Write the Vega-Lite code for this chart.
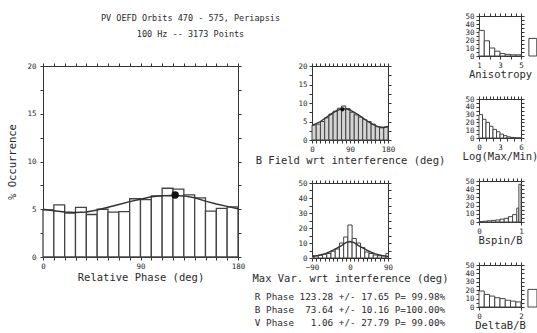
{
  "$schema": "https://vega.github.io/schema/vega-lite/v6.json",
  "background": "white",
  "padding": {"left": 7, "top": 11, "right": 0, "bottom": 0},
  "datasets": {
    "main": [
      {"lo":0,"hi":10,"v":4.93},{"lo":10,"hi":20,"v":5.45},{"lo":20,"hi":30,"v":4.6},{"lo":30,"hi":40,"v":5.2},
      {"lo":40,"hi":50,"v":4.45},{"lo":50,"hi":60,"v":5.0},{"lo":60,"hi":70,"v":4.7},{"lo":70,"hi":80,"v":4.75},
      {"lo":80,"hi":90,"v":6.1},{"lo":90,"hi":100,"v":6.0},{"lo":100,"hi":110,"v":6.4},{"lo":110,"hi":120,"v":7.2},
      {"lo":120,"hi":130,"v":7.1},{"lo":130,"hi":140,"v":6.5},{"lo":140,"hi":150,"v":6.2},{"lo":150,"hi":160,"v":4.8},
      {"lo":160,"hi":170,"v":5.1},{"lo":170,"hi":180,"v":5.25}
    ],
    "mainfit": [
      {"x":0,"y":5.0},{"x":10,"y":4.85},{"x":20,"y":4.72},{"x":30,"y":4.65},{"x":40,"y":4.72},{"x":50,"y":4.92},
      {"x":60,"y":5.2},{"x":70,"y":5.5},{"x":80,"y":5.8},{"x":90,"y":6.05},{"x":100,"y":6.3},{"x":110,"y":6.42},
      {"x":120,"y":6.45},{"x":130,"y":6.4},{"x":140,"y":6.2},{"x":150,"y":5.85},{"x":160,"y":5.55},{"x":170,"y":5.3},{"x":180,"y":5.05}
    ],
    "maindot": [{"x":122,"y":6.5}],
    "bf": [
      {"lo":0,"hi":10,"v":4.0},{"lo":10,"hi":20,"v":4.3},{"lo":20,"hi":30,"v":5.0},{"lo":30,"hi":40,"v":6.0},
      {"lo":40,"hi":50,"v":7.0},{"lo":50,"hi":60,"v":7.8},{"lo":60,"hi":70,"v":8.6},{"lo":70,"hi":80,"v":9.2},
      {"lo":80,"hi":90,"v":8.5},{"lo":90,"hi":100,"v":7.5},{"lo":100,"hi":110,"v":6.8},{"lo":110,"hi":120,"v":6.2},
      {"lo":120,"hi":130,"v":5.5},{"lo":130,"hi":140,"v":5.0},{"lo":140,"hi":150,"v":4.3},{"lo":150,"hi":160,"v":3.6},
      {"lo":160,"hi":170,"v":3.3},{"lo":170,"hi":180,"v":3.5}
    ],
    "bffit": [
      {"x":0,"y":4.0},{"x":10,"y":4.4},{"x":20,"y":5.0},{"x":30,"y":5.8},{"x":40,"y":6.6},{"x":50,"y":7.4},
      {"x":60,"y":8.0},{"x":70,"y":8.4},{"x":80,"y":8.4},{"x":90,"y":8.1},{"x":100,"y":7.5},{"x":110,"y":6.8},
      {"x":120,"y":6.0},{"x":130,"y":5.2},{"x":140,"y":4.5},{"x":150,"y":3.9},{"x":160,"y":3.5},{"x":170,"y":3.4},{"x":180,"y":3.7}
    ],
    "bfdot": [{"x":72,"y":8.3}],
    "mv": [
      {"lo":-95,"hi":-85,"v":1.5},{"lo":-85,"hi":-75,"v":1.5},{"lo":-75,"hi":-65,"v":2},{"lo":-65,"hi":-55,"v":2.5},
      {"lo":-55,"hi":-45,"v":3},{"lo":-45,"hi":-35,"v":4.5},{"lo":-35,"hi":-25,"v":6},{"lo":-25,"hi":-15,"v":10},
      {"lo":-15,"hi":-5,"v":14},{"lo":-5,"hi":5,"v":22},{"lo":5,"hi":15,"v":13},{"lo":15,"hi":25,"v":10},
      {"lo":25,"hi":35,"v":7},{"lo":35,"hi":45,"v":4},{"lo":45,"hi":55,"v":3},{"lo":55,"hi":65,"v":2},
      {"lo":65,"hi":75,"v":1.5},{"lo":75,"hi":85,"v":1.5},{"lo":85,"hi":95,"v":3}
    ],
    "mvfit": [
      {"x":-90,"y":1.0},{"x":-80,"y":1.4},{"x":-70,"y":2.0},{"x":-60,"y":2.8},{"x":-50,"y":3.9},{"x":-40,"y":5.2},
      {"x":-30,"y":6.7},{"x":-20,"y":8.3},{"x":-10,"y":10.2},{"x":0,"y":11},{"x":10,"y":10.2},{"x":20,"y":8.3},
      {"x":30,"y":6.7},{"x":40,"y":5.2},{"x":50,"y":3.9},{"x":60,"y":2.8},{"x":70,"y":2.0},{"x":80,"y":1.4},{"x":90,"y":1.0}
    ],
    "an": [
      {"lo":1,"hi":1.5,"v":32},{"lo":1.5,"hi":2,"v":19},{"lo":2,"hi":2.5,"v":10},{"lo":2.5,"hi":3,"v":6},
      {"lo":3,"hi":3.5,"v":3},{"lo":3.5,"hi":4,"v":2},{"lo":4,"hi":4.5,"v":1.5},{"lo":4.5,"hi":5,"v":1.5},
      {"lo":5.75,"hi":6.5,"v":22}
    ],
    "lg": [
      {"lo":0,"hi":0.5,"v":30},{"lo":0.5,"hi":1,"v":24},{"lo":1,"hi":1.5,"v":20},{"lo":1.5,"hi":2,"v":15},
      {"lo":2,"hi":2.5,"v":11},{"lo":2.5,"hi":3,"v":8},{"lo":3,"hi":3.5,"v":5},{"lo":3.5,"hi":4,"v":3},
      {"lo":4,"hi":4.5,"v":1.5},{"lo":4.5,"hi":5,"v":0.8},{"lo":5,"hi":5.5,"v":0.4},{"lo":5.5,"hi":6,"v":0.2}
    ],
    "bs": [
      {"lo":0,"hi":0.1,"v":0.5},{"lo":0.1,"hi":0.2,"v":1},{"lo":0.2,"hi":0.3,"v":1.5},{"lo":0.3,"hi":0.4,"v":2},
      {"lo":0.4,"hi":0.5,"v":2.5},{"lo":0.5,"hi":0.6,"v":3.5},{"lo":0.6,"hi":0.7,"v":4.5},{"lo":0.7,"hi":0.8,"v":6.5},
      {"lo":0.8,"hi":0.9,"v":9},{"lo":0.9,"hi":0.95,"v":17},{"lo":0.95,"hi":1.0,"v":46}
    ],
    "db": [
      {"lo":0,"hi":0.25,"v":19},{"lo":0.25,"hi":0.5,"v":15},{"lo":0.5,"hi":0.75,"v":13},{"lo":0.75,"hi":1,"v":11},
      {"lo":1,"hi":1.25,"v":10},{"lo":1.25,"hi":1.5,"v":8},{"lo":1.5,"hi":1.75,"v":7},{"lo":1.75,"hi":2,"v":6},
      {"lo":2.33,"hi":2.76,"v":21}
    ],
    "stats": [
      {"row":0,"t":"R Phase 123.28 +/- 17.65 P= 99.98%"},
      {"row":1,"t":"B Phase \u00a073.64 +/- 10.16 P=100.00%"},
      {"row":2,"t":"V Phase \u00a0\u00a01.06 +/- 27.79 P= 99.00%"}
    ]
  },
  "bounds": "flush",
  "spacing": 269,
  "hconcat": [
    {
      "bounds": "flush",
      "spacing": 43,
      "vconcat": [
        {"width": 195, "height": 7, "view": {"stroke": null}, "data": {"values": []}, "mark": "rect", "encoding": {}},
        {
          "width": 195, "height": 191,
          "title": {"text": ["PV OEFD Orbits 470 - 575, Periapsis", "100 Hz -- 3173 Points"], "dx": 50, "offset": 24, "lineHeight": 16},
          "layer": [
            {"data": {"name": "main"}, "mark": {"type": "bar", "fill": "white", "stroke": "#444", "strokeWidth": 1.3},
             "encoding": {
               "x": {"field": "lo", "type": "quantitative", "scale": {"domain": [0, 180], "nice": false},
                     "axis": {"orient": "bottom", "title": "Relative Phase (deg)", "values": [0,10,20,30,40,50,60,70,80,90,100,110,120,130,140,150,160,170,180], "labelExpr": "datum.value % 90 == 0 ? datum.label : ''"}},
               "x2": {"field": "hi"},
               "y": {"field": "v", "type": "quantitative", "scale": {"domain": [0, 20], "nice": false},
                     "axis": {"orient": "left", "title": "% Occurrence", "titlePadding": 9, "labelPadding": 4, "values": [0,2.5,5,7.5,10,12.5,15,17.5,20], "labelExpr": "datum.value % 5 == 0 ? datum.label : ''"}},
               "y2": {"datum": 0}
             }},
            {"data": {"name": "mainfit"}, "mark": {"type": "line", "color": "#333", "strokeWidth": 1.5},
             "encoding": {
               "x": {"field": "x", "type": "quantitative", "axis": {"orient": "top", "labels": false, "title": null, "values": [0,10,20,30,40,50,60,70,80,90,100,110,120,130,140,150,160,170,180]}},
               "y": {"field": "y", "type": "quantitative", "axis": {"orient": "right", "labels": false, "title": null, "values": [0,2.5,5,7.5,10,12.5,15,17.5,20]}}
             }},
            {"data": {"name": "maindot"}, "mark": {"type": "point", "filled": true, "color": "#111", "size": 55, "opacity": 1},
             "encoding": {"x": {"field": "x", "type": "quantitative", "axis": null}, "y": {"field": "y", "type": "quantitative", "axis": null}}}
          ]
        }
      ]
    },
    {
      "bounds": "flush",
      "spacing": 167,
      "hconcat": [
        {
          "bounds": "flush",
          "spacing": 43,
          "vconcat": [
            {"width": 76, "height": 7, "view": {"stroke": null}, "data": {"values": []}, "mark": "rect", "encoding": {}},
            {
              "width": 76, "height": 74,
              "layer": [
                {"data": {"name": "bf"}, "mark": {"type": "bar", "fill": "#d4d4d4", "stroke": "#444", "strokeWidth": 1},
                 "encoding": {
                   "x": {"field": "lo", "type": "quantitative", "scale": {"domain": [0, 180], "nice": false},
                         "axis": {"orient": "bottom", "title": "B Field wrt interference (deg)", "values": [0,10,20,30,40,50,60,70,80,90,100,110,120,130,140,150,160,170,180], "labelExpr": "datum.value % 90 == 0 ? datum.label : ''"}},
                   "x2": {"field": "hi"},
                   "y": {"field": "v", "type": "quantitative", "scale": {"domain": [0, 20], "nice": false},
                         "axis": {"orient": "left", "title": null, "values": [0,2.5,5,7.5,10,12.5,15,17.5,20], "labelExpr": "datum.value % 5 == 0 ? datum.label : ''"}},
                   "y2": {"datum": 0}
                 }},
                {"data": {"name": "bffit"}, "mark": {"type": "line", "color": "#333", "strokeWidth": 1.4},
                 "encoding": {
                   "x": {"field": "x", "type": "quantitative", "axis": {"orient": "top", "labels": false, "title": null, "values": [0,10,20,30,40,50,60,70,80,90,100,110,120,130,140,150,160,170,180]}},
                   "y": {"field": "y", "type": "quantitative", "axis": {"orient": "right", "labels": false, "title": null, "values": [0,2.5,5,7.5,10,12.5,15,17.5,20]}}
                 }},
                {"data": {"name": "bfdot"}, "mark": {"type": "point", "filled": true, "color": "#111", "size": 18, "opacity": 1},
                 "encoding": {"x": {"field": "x", "type": "quantitative", "axis": null}, "y": {"field": "y", "type": "quantitative", "axis": null}}}
              ]
            },
            {
              "width": 76, "height": 75,
              "layer": [
                {"data": {"name": "mv"}, "mark": {"type": "bar", "fill": "white", "stroke": "#444", "strokeWidth": 1, "clip": true},
                 "encoding": {
                   "x": {"field": "lo", "type": "quantitative", "scale": {"domain": [-90, 90], "nice": false, "zero": false},
                         "axis": {"orient": "bottom", "title": "Max Var. wrt interference (deg)", "values": [-90,-80,-70,-60,-50,-40,-30,-20,-10,0,10,20,30,40,50,60,70,80,90], "labelExpr": "datum.value % 90 == 0 ? datum.label : ''"}},
                   "x2": {"field": "hi"},
                   "y": {"field": "v", "type": "quantitative", "scale": {"domain": [0, 50], "nice": false},
                         "axis": {"orient": "left", "title": null, "values": [0,5,10,15,20,25,30,35,40,45,50], "labelExpr": "datum.value % 10 == 0 ? datum.label : ''"}},
                   "y2": {"datum": 0}
                 }},
                {"data": {"name": "mvfit"}, "mark": {"type": "line", "color": "#333", "strokeWidth": 1.4},
                 "encoding": {
                   "x": {"field": "x", "type": "quantitative", "axis": {"orient": "top", "labels": false, "title": null, "values": [-90,-80,-70,-60,-50,-40,-30,-20,-10,0,10,20,30,40,50,60,70,80,90]}},
                   "y": {"field": "y", "type": "quantitative", "axis": {"orient": "right", "labels": false, "title": null, "values": [0,5,10,15,20,25,30,35,40,45,50]}}
                 }}
              ]
            },
            {
              "width": 76, "height": 26, "view": {"stroke": null},
              "data": {"name": "stats"},
              "mark": {"type": "text", "font": "DejaVu Sans Mono", "fontSize": 9.3, "color": "#2a2a2a"},
              "encoding": {
                "y": {"field": "row", "type": "quantitative", "scale": {"domain": [0.3, 2.3], "reverse": true, "nice": false, "zero": false}, "axis": null},
                "text": {"field": "t"}
              }
            }
          ]
        },
        {
          "bounds": "flush",
          "spacing": 43,
          "vconcat": [
            {
              "width": 42, "height": 40,
              "layer": [
                {"data": {"name": "an"}, "mark": {"type": "bar", "fill": "white", "stroke": "#444", "strokeWidth": 1},
                 "encoding": {
                   "x": {"field": "lo", "type": "quantitative", "scale": {"domain": [1, 5], "nice": false, "zero": false},
                         "axis": {"orient": "bottom", "title": "Anisotropy", "titlePadding": 1, "format": "d", "values": [1,1.5,2,2.5,3,3.5,4,4.5,5], "labelExpr": "datum.value == 1 || datum.value == 3 || datum.value == 5 ? datum.label : ''"}},
                   "x2": {"field": "hi"},
                   "y": {"field": "v", "type": "quantitative", "scale": {"domain": [0, 50], "nice": false},
                         "axis": {"orient": "left", "title": null, "values": [0,5,10,15,20,25,30,35,40,45,50], "labelExpr": "datum.value % 10 == 0 ? datum.label : ''"}},
                   "y2": {"datum": 0}
                 }},
                {"data": {"name": "an"}, "mark": {"type": "bar", "opacity": 0},
                 "encoding": {
                   "x": {"field": "lo", "type": "quantitative", "axis": {"orient": "top", "labels": false, "title": null, "values": [1,1.5,2,2.5,3,3.5,4,4.5,5]}},
                   "x2": {"field": "hi"},
                   "y": {"field": "v", "type": "quantitative", "axis": {"orient": "right", "labels": false, "title": null, "values": [0,5,10,15,20,25,30,35,40,45,50]}},
                   "y2": {"datum": 0}
                 }}
              ]
            },
            {
              "width": 42, "height": 39,
              "layer": [
                {"data": {"name": "lg"}, "mark": {"type": "bar", "fill": "white", "stroke": "#444", "strokeWidth": 1},
                 "encoding": {
                   "x": {"field": "lo", "type": "quantitative", "scale": {"domain": [0, 6], "nice": false},
                         "axis": {"orient": "bottom", "title": "Log(Max/Min)", "titlePadding": 1, "format": "d", "values": [0,0.5,1,1.5,2,2.5,3,3.5,4,4.5,5,5.5,6], "labelExpr": "datum.value == 0 || datum.value == 3 || datum.value == 6 ? datum.label : ''"}},
                   "x2": {"field": "hi"},
                   "y": {"field": "v", "type": "quantitative", "scale": {"domain": [0, 50], "nice": false},
                         "axis": {"orient": "left", "title": null, "values": [0,5,10,15,20,25,30,35,40,45,50], "labelExpr": "datum.value % 10 == 0 ? datum.label : ''"}},
                   "y2": {"datum": 0}
                 }},
                {"data": {"name": "lg"}, "mark": {"type": "bar", "opacity": 0},
                 "encoding": {
                   "x": {"field": "lo", "type": "quantitative", "axis": {"orient": "top", "labels": false, "title": null, "values": [0,0.5,1,1.5,2,2.5,3,3.5,4,4.5,5,5.5,6]}},
                   "x2": {"field": "hi"},
                   "y": {"field": "v", "type": "quantitative", "axis": {"orient": "right", "labels": false, "title": null, "values": [0,5,10,15,20,25,30,35,40,45,50]}},
                   "y2": {"datum": 0}
                 }}
              ]
            },
            {
              "width": 42, "height": 41,
              "layer": [
                {"data": {"name": "bs"}, "mark": {"type": "bar", "fill": "white", "stroke": "#444", "strokeWidth": 1},
                 "encoding": {
                   "x": {"field": "lo", "type": "quantitative", "scale": {"domain": [0, 1], "nice": false},
                         "axis": {"orient": "bottom", "title": "Bspin/B", "titlePadding": 1, "format": "d", "values": [0,0.1,0.2,0.3,0.4,0.5,0.6,0.7,0.8,0.9,1], "labelExpr": "datum.value == 0 || datum.value == 1 ? datum.label : ''"}},
                   "x2": {"field": "hi"},
                   "y": {"field": "v", "type": "quantitative", "scale": {"domain": [0, 50], "nice": false},
                         "axis": {"orient": "left", "title": null, "values": [0,5,10,15,20,25,30,35,40,45,50], "labelExpr": "datum.value % 10 == 0 ? datum.label : ''"}},
                   "y2": {"datum": 0}
                 }},
                {"data": {"name": "bs"}, "mark": {"type": "bar", "opacity": 0},
                 "encoding": {
                   "x": {"field": "lo", "type": "quantitative", "axis": {"orient": "top", "labels": false, "title": null, "values": [0,0.1,0.2,0.3,0.4,0.5,0.6,0.7,0.8,0.9,1]}},
                   "x2": {"field": "hi"},
                   "y": {"field": "v", "type": "quantitative", "axis": {"orient": "right", "labels": false, "title": null, "values": [0,5,10,15,20,25,30,35,40,45,50]}},
                   "y2": {"datum": 0}
                 }}
              ]
            },
            {
              "width": 42, "height": 42,
              "layer": [
                {"data": {"name": "db"}, "mark": {"type": "bar", "fill": "white", "stroke": "#444", "strokeWidth": 1},
                 "encoding": {
                   "x": {"field": "lo", "type": "quantitative", "scale": {"domain": [0, 2], "nice": false},
                         "axis": {"orient": "bottom", "title": "DeltaB/B", "titlePadding": 1, "format": "d", "values": [0,0.25,0.5,0.75,1,1.25,1.5,1.75,2], "labelExpr": "datum.value == 0 || datum.value == 1 || datum.value == 2 ? datum.label : ''"}},
                   "x2": {"field": "hi"},
                   "y": {"field": "v", "type": "quantitative", "scale": {"domain": [0, 50], "nice": false},
                         "axis": {"orient": "left", "title": null, "values": [0,5,10,15,20,25,30,35,40,45,50], "labelExpr": "datum.value % 10 == 0 ? datum.label : ''"}},
                   "y2": {"datum": 0}
                 }},
                {"data": {"name": "db"}, "mark": {"type": "bar", "opacity": 0},
                 "encoding": {
                   "x": {"field": "lo", "type": "quantitative", "axis": {"orient": "top", "labels": false, "title": null, "values": [0,0.25,0.5,0.75,1,1.25,1.5,1.75,2]}},
                   "x2": {"field": "hi"},
                   "y": {"field": "v", "type": "quantitative", "axis": {"orient": "right", "labels": false, "title": null, "values": [0,5,10,15,20,25,30,35,40,45,50]}},
                   "y2": {"datum": 0}
                 }}
              ]
            }
          ]
        }
      ]
    }
  ],
  "config": {
    "view": {"stroke": "#333", "strokeWidth": 1},
    "axis": {
      "domain": false, "grid": false, "ticks": true, "tickSize": 3, "tickColor": "#333", "tickWidth": 1,
      "labelFont": "DejaVu Sans Mono", "labelFontSize": 7.5, "labelColor": "#2a2a2a", "labelPadding": 2,
      "labelOverlap": false, "labelFlush": false,
      "titleFont": "DejaVu Sans Mono", "titleFontSize": 10.5, "titleFontWeight": "normal", "titleColor": "#2a2a2a", "titlePadding": 3
    },
    "title": {"font": "DejaVu Sans Mono", "fontSize": 8.5, "fontWeight": "normal", "color": "#2a2a2a", "anchor": "middle"}
  }
}
